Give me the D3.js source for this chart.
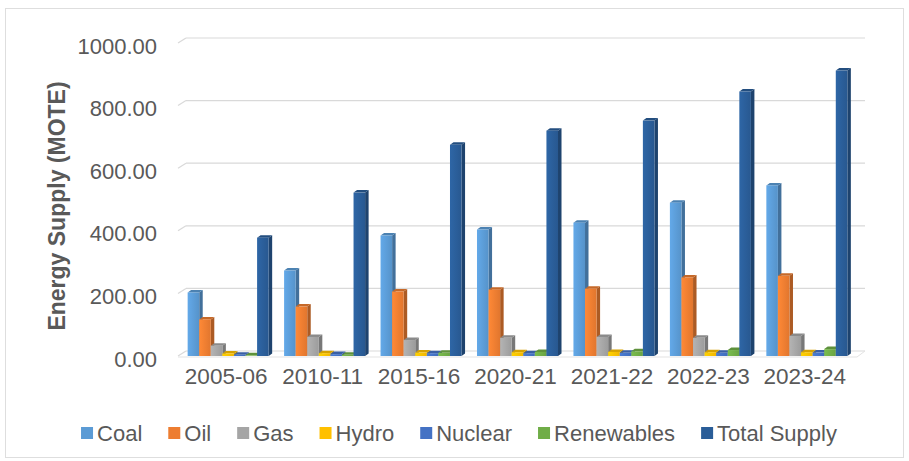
<!DOCTYPE html>
<html lang="en">
<head>
    <meta charset="UTF-8">
    <script src="https://cdnjs.cloudflare.com/ajax/libs/d3/7.8.5/d3.min.js"></script>
    <title>Energy Supply</title>
    <style>
        body {
            margin: 0;
            background: white;
        }
        text {
            font-family: 'Liberation Sans', Arial, sans-serif;
        }
    </style>
</head>
<body>
    <div class="chart"></div>

    <script>
        // Data
        const years = ["2005-06", "2010-11", "2015-16", "2020-21", "2021-22", "2022-23", "2023-24"];
        const seriesNames = ["Coal", "Oil", "Gas", "Hydro", "Nuclear", "Renewables", "Total Supply"];
        const coal = [203, 273, 385, 404, 426, 490, 545];
        const oil = [117, 158, 206, 212, 215, 251, 256];
        const gas = [33, 61, 51, 58, 61, 58, 64];
        const hydro = [8, 9, 11, 12, 13, 12, 12];
        const nuclear = [4, 6, 9, 9, 10, 10, 11];
        const renewables = [2, 4, 10, 13, 15, 19, 22];
        const totalSupply = [378, 522, 675, 720, 752, 845, 912];
        const yTicks = [0, 200, 400, 600, 800, 1000];
        const seriesColors = ["#5b9bd5", "#ed7d31", "#a5a5a5", "#ffc000", "#4472c4", "#70ad47", "#2a5d98"];

        const seriesValues = [coal, oil, gas, hydro, nuclear, renewables, totalSupply];

        const width = 909, height = 461;
        const plot = { left: 178, right: 857, top: 43, bottom: 356 };
        // back wall offset (fake 3D)
        const wallDx = 8, wallDy = -5;
        // bar depth
        const barDx = 3.5, barDy = -2.5;

        const svg = d3.select(".chart").append("svg")
            .attr("width", width)
            .attr("height", height);

        // outer frame
        svg.append("rect")
            .attr("x", 5.5).attr("y", 8.5)
            .attr("width", 898).attr("height", 449)
            .attr("fill", "white")
            .attr("stroke", "#dedede");

        const y = d3.scaleLinear().domain([0, 1000]).range([plot.bottom, plot.top]);
        const x0 = d3.scaleBand().domain(years).range([plot.left, plot.right]).paddingInner(0.16).paddingOuter(0.1);
        const x1 = d3.scaleBand().domain(seriesNames).range([0, x0.bandwidth()]);

        // gradients for the bar fronts
        const defs = svg.append("defs");
        seriesColors.forEach((c, i) => {
            const g = defs.append("linearGradient")
                .attr("id", "grad" + i)
                .attr("x1", "0").attr("x2", "1").attr("y1", "0").attr("y2", "0");
            g.append("stop").attr("offset", "0%").attr("stop-color", d3.color(c).brighter(0.25));
            g.append("stop").attr("offset", "100%").attr("stop-color", d3.color(c).darker(0.15));
        });

        // gridlines on back wall, with slanted segment on the left wall
        const grid = svg.append("g");
        yTicks.forEach(t => {
            grid.append("line")
                .attr("x1", plot.left + wallDx).attr("x2", plot.right + wallDx)
                .attr("y1", y(t) + wallDy).attr("y2", y(t) + wallDy)
                .attr("stroke", "#d9d9d9").attr("stroke-width", 1.2);
            grid.append("line")
                .attr("x1", plot.left).attr("x2", plot.left + wallDx)
                .attr("y1", y(t)).attr("y2", y(t) + wallDy)
                .attr("stroke", "#d9d9d9").attr("stroke-width", 1.2);
        });
        // floor front edge
        grid.append("line")
            .attr("x1", plot.left).attr("x2", plot.right)
            .attr("y1", y(0) + 1).attr("y2", y(0) + 1)
            .attr("stroke", "#e3e3e3");
        grid.append("line")
            .attr("x1", plot.right).attr("x2", plot.right + wallDx)
            .attr("y1", y(0) + 1).attr("y2", y(0) + wallDy)
            .attr("stroke", "#e3e3e3");

        // y tick labels
        svg.append("g").selectAll("text")
            .data(yTicks)
            .enter()
            .append("text")
            .attr("x", 157)
            .attr("y", d => y(d) + 3)
            .attr("text-anchor", "end")
            .attr("dominant-baseline", "central")
            .attr("font-size", 22)
            .attr("fill", "#595959")
            .text(d => d3.format(".2f")(d));

        // y axis title
        svg.append("text")
            .attr("transform", "translate(57,206) rotate(-90)")
            .attr("text-anchor", "middle")
            .attr("dominant-baseline", "central")
            .attr("font-size", 23)
            .attr("font-weight", "bold")
            .attr("fill", "#595959")
            .text("Energy Supply (MOTE)");

        // x labels
        svg.append("g").selectAll("text")
            .data(years)
            .enter()
            .append("text")
            .attr("x", d => x0(d) + x0.bandwidth() / 2 - 2)
            .attr("y", 376)
            .attr("text-anchor", "middle")
            .attr("dominant-baseline", "central")
            .attr("font-size", 22.5)
            .attr("fill", "#595959")
            .text(d => d);

        // bars, drawn left to right so each front hides the previous side
        const bars = svg.append("g");
        years.forEach((yr, yi) => {
            seriesNames.forEach((name, si) => {
                const v = seriesValues[si][yi];
                const bx = x0(yr) + x1(name);
                const bw = x1.bandwidth();
                const top = y(v), bottom = y(0);
                const c = seriesColors[si];

                // side face
                bars.append("path")
                    .attr("d", `M${bx + bw},${bottom} L${bx + bw + barDx},${bottom + barDy} L${bx + bw + barDx},${top + barDy} L${bx + bw},${top} Z`)
                    .attr("fill", d3.color(c).darker(0.9));
                // top face
                bars.append("path")
                    .attr("d", `M${bx},${top} L${bx + barDx},${top + barDy} L${bx + bw + barDx},${top + barDy} L${bx + bw},${top} Z`)
                    .attr("fill", d3.color(c).darker(0.5));
                // front face
                bars.append("rect")
                    .attr("x", bx).attr("y", top)
                    .attr("width", bw).attr("height", Math.max(0, bottom - top))
                    .attr("fill", `url(#grad${si})`);
            });
        });

        // legend, centred under the chart
        const legend = svg.append("g");
        const sq = 12, sqGap = 4, itemGap = 26, legendY = 433;
        const items = seriesNames.map((name, i) => {
            const g = legend.append("g");
            g.append("rect")
                .attr("y", legendY - sq / 2)
                .attr("width", sq).attr("height", sq)
                .attr("fill", seriesColors[i]);
            const t = g.append("text")
                .attr("x", sq + sqGap)
                .attr("y", legendY)
                .attr("dominant-baseline", "central")
                .attr("font-size", 22)
                .attr("fill", "#595959")
                .text(name);
            return { g, w: sq + sqGap + t.node().getComputedTextLength() };
        });
        const totalW = d3.sum(items, d => d.w) + itemGap * (items.length - 1);
        let cx = 459 - totalW / 2;
        items.forEach(it => {
            it.g.attr("transform", `translate(${cx},0)`);
            cx += it.w + itemGap;
        });
    </script>
</body>
</html>
